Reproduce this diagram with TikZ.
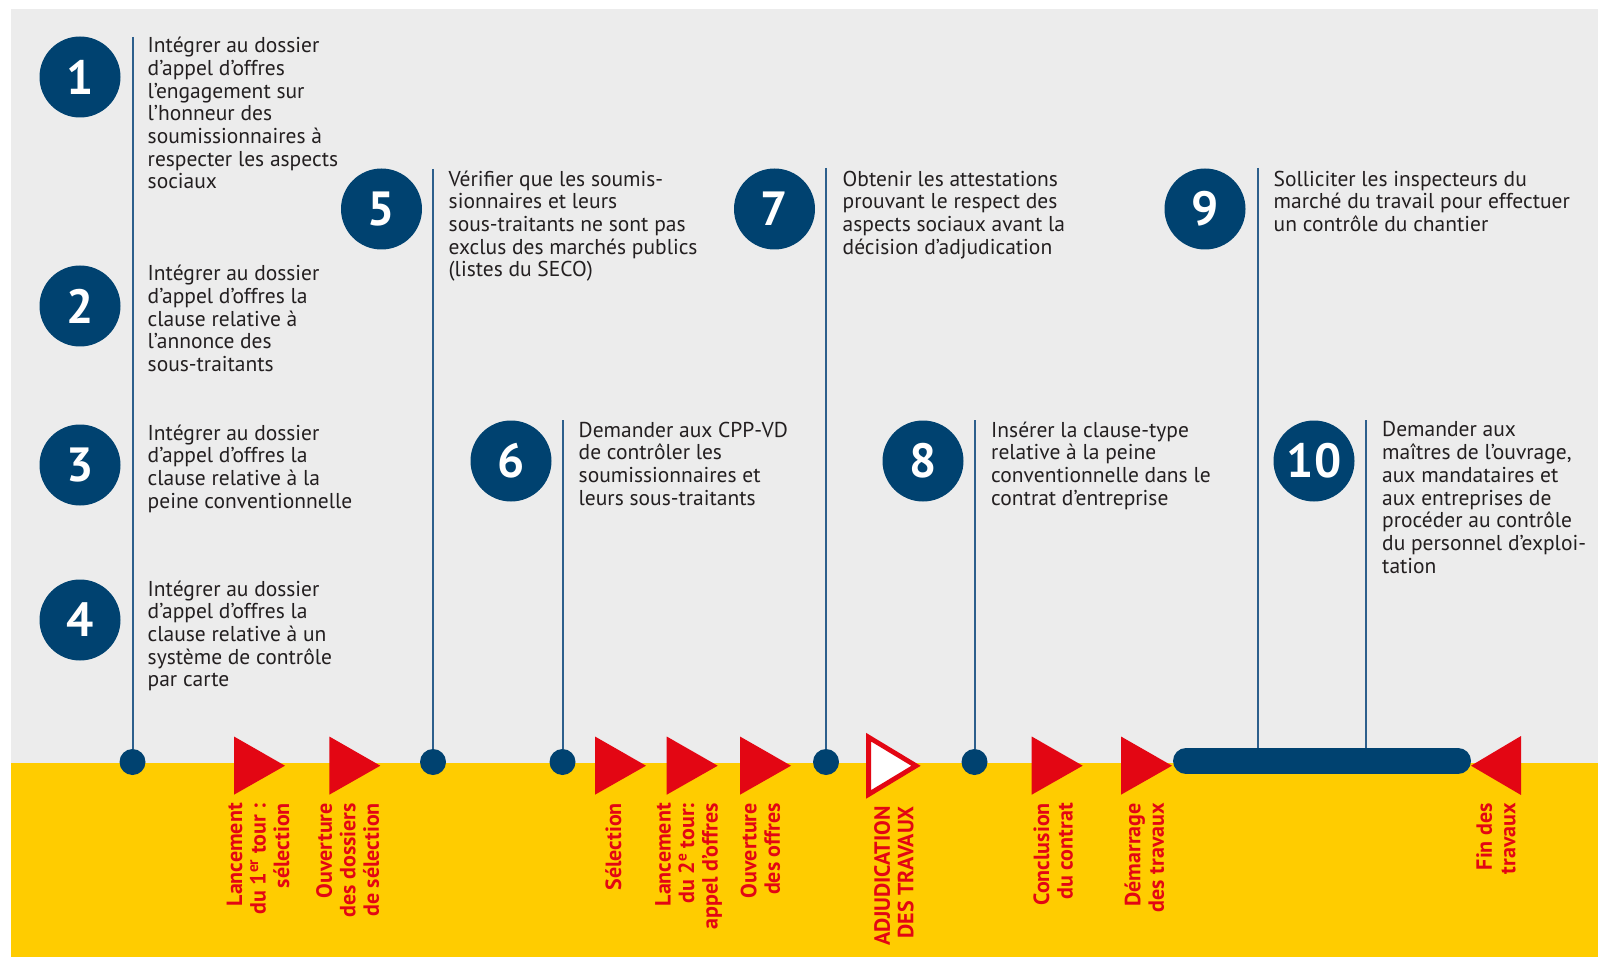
\documentclass[tikz,border=0pt]{standalone}
\usepackage{fontspec}
\setmainfont{PT Sans}
\definecolor{navy}{RGB}{0,66,112}
\definecolor{lineblue}{RGB}{45,95,140}
\definecolor{bggray}{RGB}{236,236,236}
\definecolor{ylw}{RGB}{255,204,0}
\definecolor{rd}{RGB}{227,6,19}
\definecolor{txt}{RGB}{35,31,32}
\begin{document}
\begin{tikzpicture}[x=1pt,y=-1pt,
  num/.style={circle,fill=navy,minimum size=81pt,inner sep=0pt,text=white,font=\fontsize{48}{48}\selectfont\bfseries},
  desc/.style={anchor=north west,inner sep=0pt,align=left,text=txt,font=\fontsize{21.5}{22.7}\selectfont},
  dot/.style={circle,fill=navy,minimum size=26pt,inner sep=0pt},
  stem/.style={draw=lineblue,line width=2pt},
  lbl/.style={rotate=90,anchor=north east,inner sep=0pt,align=right,text=rd,font=\fontsize{22}{23.5}\selectfont\bfseries},
  flag/.style={fill=rd}
]
\useasboundingbox (0,0) rectangle (1598,957);
\fill[white] (0,0) rectangle (1598,957);
\fill[bggray] (11,9.5) rectangle (1598,763);
\fill[ylw] (11,763) rectangle (1598,957);

% numbered circles
\node[num] (c1) at (80,77) {1};
\node[num] (c2) at (80,306) {2};
\node[num] (c3) at (80,465) {3};
\node[num] (c4) at (80,620) {4};
\node[num] (c5) at (381.5,209) {5};
\node[num] (c6) at (511,461) {6};
\node[num] (c7) at (774.5,209) {7};
\node[num] (c8) at (923,461) {8};
\node[num] (c9) at (1205,209) {9};
\node[num] (c10) at (1314,461) {10};

% descriptions
\node[desc] (t1) at (147.5,37) {Intégrer au dossier\\d’appel d’offres\\l’engagement sur\\l’honneur des\\soumissionnaires à\\respecter les aspects\\sociaux};
\node[desc] (t2) at (147.5,265) {Intégrer au dossier\\d’appel d’offres la\\clause relative à\\l’annonce des\\sous-traitants};
\node[desc] (t3) at (147.5,424.5) {Intégrer au dossier\\d’appel d’offres la\\clause relative à la\\peine conventionnelle};
\node[desc] (t4) at (147.5,580.5) {Intégrer au dossier\\d’appel d’offres la\\clause relative à un\\système de contrôle\\par carte};
\node[desc] (t5) at (448.5,170.5) {Vérifier que les soumis-\\sionnaires et leurs\\sous-traitants ne sont pas\\exclus des marchés publics\\(listes du SECO)};
\node[desc] (t6) at (578.5,421.5) {Demander aux CPP-VD\\de contrôler les\\soumissionnaires et\\leurs sous-traitants};
\node[desc] (t7) at (842.5,170.5) {Obtenir les attestations\\prouvant le respect des\\aspects sociaux avant la\\décision d’adjudication};
\node[desc] (t8) at (991,421.5) {Insérer la clause-type\\relative à la peine\\conventionnelle dans le\\contrat d’entreprise};
\node[desc] (t9) at (1273.5,170.5) {Solliciter les inspecteurs du\\marché du travail pour effectuer\\un contrôle du chantier};
\node[desc] (t10) at (1382,421.5) {Demander aux\\maîtres de l’ouvrage,\\aux mandataires et\\aux entreprises de\\procéder au contrôle\\du personnel d’exploi-\\tation};

% timeline dots
\node[dot] (d1) at (132.5,762) {};
\node[dot] (d5) at (433,762) {};
\node[dot] (d6) at (562.5,762) {};
\node[dot] (d7) at (826,762) {};
\node[dot] (d8) at (974.5,762) {};

% stem tops
\coordinate (s1) at (132.5,37);
\coordinate (s5) at (433,169);
\coordinate (s6) at (562.5,420);
\coordinate (s7) at (826,168);
\coordinate (s8) at (974.5,420);
\coordinate (s9) at (1257.5,168);
\coordinate (s10) at (1366,420);
\coordinate (b9) at (1257.5,761);
\coordinate (b10) at (1366,761);
\coordinate (bl) at (1186,761);
\coordinate (br) at (1458,761);

\draw[stem] (s1) -- (d1);
\draw[stem] (s5) -- (d5);
\draw[stem] (s6) -- (d6);
\draw[stem] (s7) -- (d7);
\draw[stem] (s8) -- (d8);
\draw[stem] (s9) -- (b9);
\draw[stem] (s10) -- (b10);

% construction bar
\draw[navy,line width=26pt,line cap=round] (bl) -- (br);

% flags
\fill[flag] (234,736.5) -- (285,765.7) -- (234,794.7) -- cycle;
\fill[flag] (329.3,736.5) -- (380.3,765.7) -- (329.3,794.7) -- cycle;
\fill[flag] (595,736.5) -- (646,765.7) -- (595,794.7) -- cycle;
\fill[flag] (666.7,736.5) -- (717.7,765.7) -- (666.7,794.7) -- cycle;
\fill[flag] (740,736.5) -- (791,765.7) -- (740,794.7) -- cycle;
\draw[draw=rd,fill=white,line width=4.8pt] (868.6,737.2) -- (916,765.8) -- (868.6,794.4) -- cycle;
\fill[flag] (1031.7,736.5) -- (1082.7,765.7) -- (1031.7,794.7) -- cycle;
\fill[flag] (1121,736.5) -- (1172,765.7) -- (1121,794.7) -- cycle;
\fill[flag] (1521,736) -- (1471,765.7) -- (1521,795) -- cycle;

% milestone labels
\node[lbl] (la) at (226.5,803) {Lancement\\du 1\textsuperscript{er} tour :\\sélection};
\node[lbl] (lb) at (316,803) {Ouverture\\des dossiers\\de sélection};
\node[lbl] (lc) at (605,803) {Sélection};
\node[lbl] (ld) at (655,803) {Lancement\\du 2\textsuperscript{e} tour:\\appel d’offres};
\node[lbl] (le) at (740.5,803) {Ouverture\\des offres};
\node[lbl] (lf) at (874,806) {ADJUDICATION\\DES TRAVAUX};
\node[lbl] (lg) at (1033.3,803) {Conclusion\\du contrat};
\node[lbl] (lh) at (1124.3,803) {Démarrage\\des travaux};
\node[lbl] (li) at (1476,803) {Fin des\\travaux};
\end{tikzpicture}
\end{document}
